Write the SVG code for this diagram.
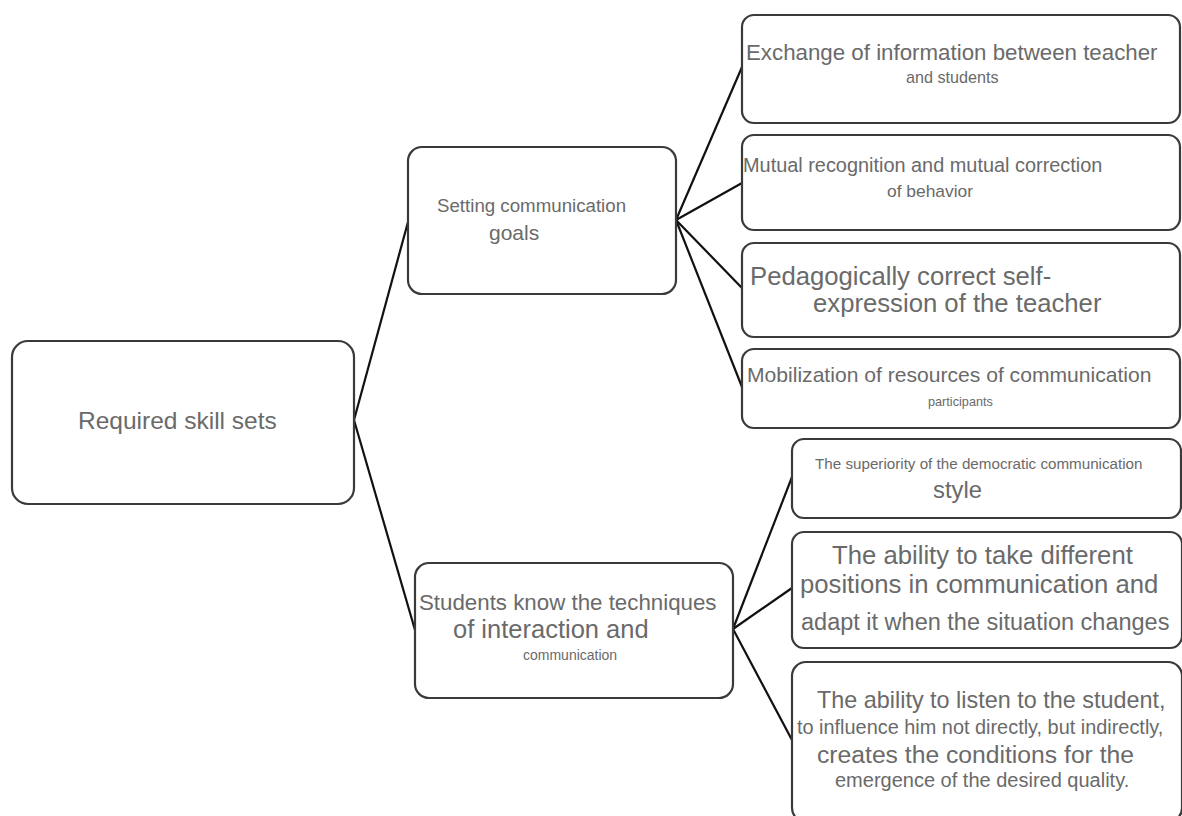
<svg xmlns="http://www.w3.org/2000/svg" width="1182" height="816" viewBox="0 0 1182 816">
<style>
.box{fill:#fff;stroke:#3a3a3a;stroke-width:2.2}
.t{font-family:"Liberation Sans",Arial,sans-serif;fill:#6a6a6a}
.c{fill:none;stroke:#111;stroke-width:2.2}
</style>
<rect width="1182" height="816" fill="#fff"/>
<g id="connectors">
<line class="c" x1="354" y1="420" x2="408" y2="222"/>
<line class="c" x1="354" y1="420" x2="415" y2="630"/>
<line class="c" x1="676" y1="220" x2="742" y2="67"/>
<line class="c" x1="676" y1="220" x2="742" y2="183"/>
<line class="c" x1="676" y1="220" x2="742" y2="288"/>
<line class="c" x1="676" y1="220" x2="742" y2="387"/>
<line class="c" x1="733" y1="629" x2="792" y2="477"/>
<line class="c" x1="733" y1="629" x2="792" y2="588"/>
<line class="c" x1="733" y1="629" x2="792" y2="740"/>
</g>
<g id="root">
<rect class="box" x="12" y="341" width="342" height="163" rx="16"/>
<text class="t" x="78" y="429" font-size="24.5">Required skill sets</text>
</g>
<g id="goals">
<rect class="box" x="408" y="147" width="268" height="147" rx="14"/>
<text class="t" x="437" y="212" font-size="18.7">Setting communication</text>
<text class="t" x="489" y="240" font-size="21">goals</text>
</g>
<g id="techniques">
<rect class="box" x="415" y="563" width="318" height="135" rx="14"/>
<text class="t" x="419" y="610" font-size="22.3">Students know the techniques</text>
<text class="t" x="453" y="638" font-size="25.5">of interaction and</text>
<text class="t" x="523" y="660" font-size="14">communication</text>
</g>
<g id="exchange">
<rect class="box" x="742" y="15" width="438" height="108" rx="12"/>
<text class="t" x="746" y="60" font-size="22.3">Exchange of information between teacher</text>
<text class="t" x="906" y="83" font-size="16.2">and students</text>
</g>
<g id="mutual">
<rect class="box" x="742" y="135" width="438" height="95" rx="12"/>
<text class="t" x="743" y="172" font-size="19.9">Mutual recognition and mutual correction</text>
<text class="t" x="887" y="197" font-size="17.4">of behavior</text>
</g>
<g id="selfexpr">
<rect class="box" x="742" y="243" width="438" height="94" rx="12"/>
<text class="t" x="750" y="285" font-size="25.7">Pedagogically correct self-</text>
<text class="t" x="813" y="312" font-size="25.7">expression of the teacher</text>
</g>
<g id="mobilization">
<rect class="box" x="742" y="349" width="438" height="79" rx="12"/>
<text class="t" x="747" y="382" font-size="21.1">Mobilization of resources of communication</text>
<text class="t" x="928" y="406" font-size="12.7">participants</text>
</g>
<g id="democratic">
<rect class="box" x="792" y="439" width="389" height="79" rx="12"/>
<text class="t" x="815" y="469" font-size="15.2">The superiority of the democratic communication</text>
<text class="t" x="933" y="498" font-size="23.8">style</text>
</g>
<g id="positions">
<rect class="box" x="792" y="532" width="390" height="116" rx="12"/>
<text class="t" x="832" y="564" font-size="25.7">The ability to take different</text>
<text class="t" x="800" y="593" font-size="25.7">positions in communication and</text>
<text class="t" x="801" y="630" font-size="23.5">adapt it when the situation changes</text>
</g>
<g id="listen">
<rect class="box" x="792" y="662" width="390" height="160" rx="14"/>
<text class="t" x="817" y="708" font-size="23.4">The ability to listen to the student,</text>
<text class="t" x="797" y="734" font-size="19.9">to influence him not directly, but indirectly,</text>
<text class="t" x="817" y="763" font-size="24.7">creates the conditions for the</text>
<text class="t" x="835" y="787" font-size="20">emergence of the desired quality.</text>
</g>
</svg>
